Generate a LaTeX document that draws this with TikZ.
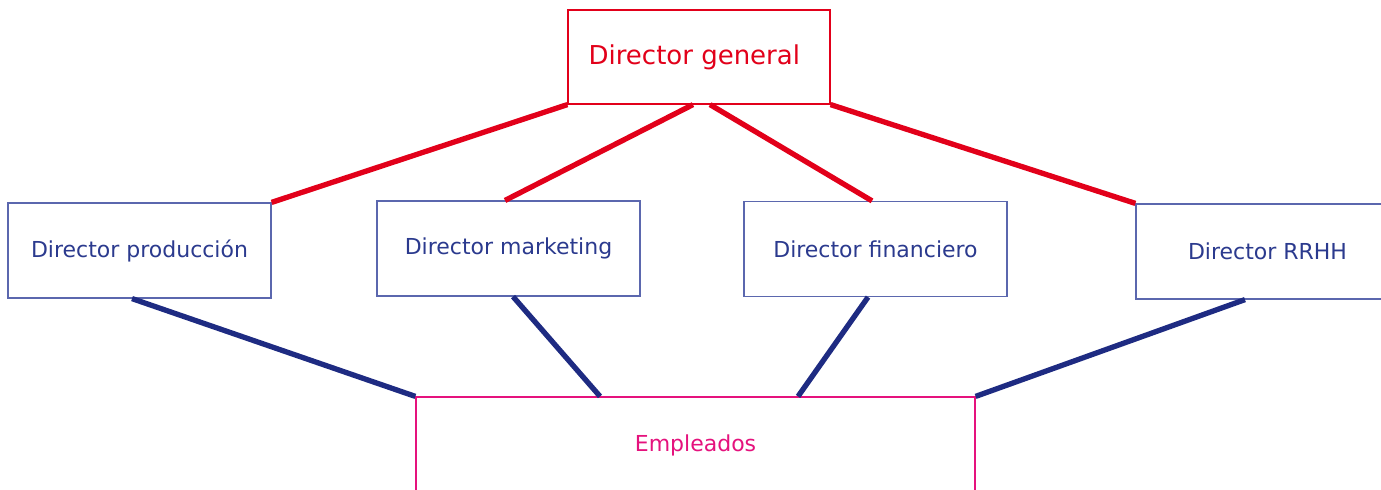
\documentclass[tikz,border=0pt]{standalone}
\usepackage{fontspec}
\setmainfont{DejaVu Sans}
\definecolor{dgred}{HTML}{E2001A}
\definecolor{dgblue}{HTML}{1E2B82}
\definecolor{boxblue}{HTML}{5B67AE}
\definecolor{txtblue}{HTML}{2B3A8E}
\definecolor{emppink}{HTML}{E5127D}
\begin{document}
\begin{tikzpicture}[x=0.75pt,y=-0.75pt,
  genbox/.style={draw=dgred,line width=0.9pt,fill=white,text=dgred,font=\fontsize{19.5}{23}\selectfont,
    minimum width=196.5pt,minimum height=70.5pt,inner sep=0pt},
  dirbox/.style={draw=boxblue,line width=0.9pt,fill=white,text=txtblue,font=\fontsize{16.5}{20}\selectfont,
    minimum width=197.25pt,minimum height=71.25pt,inner sep=0pt},
  empbox/.style={draw=emppink,line width=0.9pt,fill=white,text=emppink,font=\fontsize{16.5}{20}\selectfont,
    minimum width=419.25pt,minimum height=72pt,inner sep=0pt},
  redline/.style={draw=dgred,line width=4pt},
  blueline/.style={draw=dgblue,line width=4pt}]
\useasboundingbox (0,0) rectangle (1381,489);
\clip (0,0) rectangle (1381,489);
\node[genbox] (gen) at (699,57) {\hspace*{-7pt}Director general};
\node[dirbox] (prod) at (139.5,250.5) {Director producción};
\node[dirbox] (mkt) at (508.5,248.5) {Director marketing};
\node[dirbox] (fin) at (875.5,249) {Director financiero};
\node[dirbox] (rrhh) at (1267.5,251.5) {Director RRHH};
\node[empbox] (emp) at (695.5,445) {Empleados};
\draw[redline] (gen.south west) -- (prod.north east);
\draw[redline] ([xshift=-4.5pt]gen.south) -- ([xshift=-2.6pt]mkt.north);
\draw[redline] ([xshift=8.25pt]gen.south) -- ([xshift=-2.6pt]fin.north);
\draw[redline] (gen.south east) -- (rrhh.north west);
\draw[blueline] ([xshift=-5.6pt]prod.south) -- (emp.north west);
\draw[blueline] ([xshift=3.4pt]mkt.south) -- ([xshift=-71.6pt]emp.north);
\draw[blueline] ([xshift=-5.6pt]fin.south) -- ([xshift=76.9pt]emp.north);
\draw[blueline] ([xshift=-16.9pt]rrhh.south) -- (emp.north east);
\end{tikzpicture}
\end{document}
